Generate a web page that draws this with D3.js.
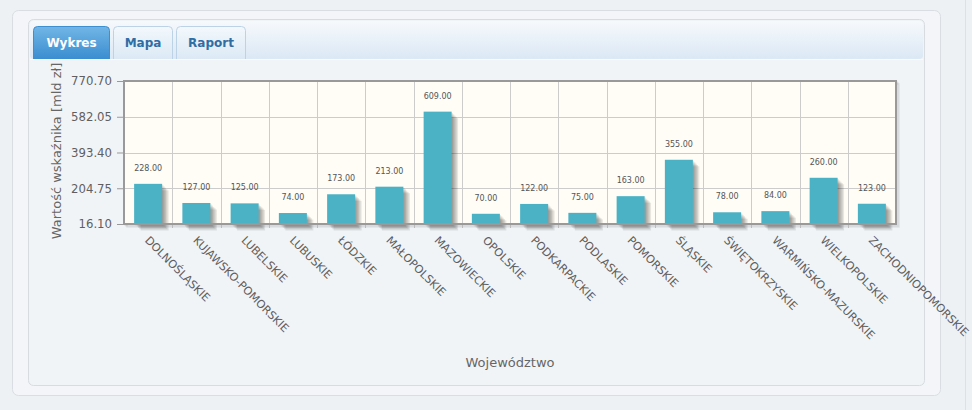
<!DOCTYPE html>
<html><head><meta charset="utf-8">
<script src="https://cdn.jsdelivr.net/npm/d3@7"></script>
<style>body{margin:0;background:#eef1f4;} svg{display:block}</style>
</head><body><svg id="c" width="972" height="410"></svg>
<script>
const categories = ["DOLNOŚLĄSKIE","KUJAWSKO-POMORSKIE","LUBELSKIE","LUBUSKIE","ŁÓDZKIE","MAŁOPOLSKIE","MAZOWIECKIE","OPOLSKIE","PODKARPACKIE","PODLASKIE","POMORSKIE","ŚLĄSKIE","ŚWIĘTOKRZYSKIE","WARMIŃSKO-MAZURSKIE","WIELKOPOLSKIE","ZACHODNIOPOMORSKIE"];
const values = [228,127,125,74,173,213,609,70,122,75,163,355,78,84,260,123];
const yTicks = [16.10,204.75,393.40,582.05,770.70];
const tabs = ["Wykres","Mapa","Raport"];
const yTitle = "Wartość wskaźnika [mld zł]";
const xTitle = "Województwo";

const svg = d3.select("#c");
const defs = svg.append("defs");
const g1 = defs.append("linearGradient").attr("id","hdr").attr("x1",0).attr("y1",0).attr("x2",0).attr("y2",1);
g1.append("stop").attr("offset","0%").attr("stop-color","#f6f9fc");
g1.append("stop").attr("offset","100%").attr("stop-color","#dbe8f5");
const g2 = defs.append("linearGradient").attr("id","act").attr("x1",0).attr("y1",0).attr("x2",0).attr("y2",1);
g2.append("stop").attr("offset","0%").attr("stop-color","#72b6e6");
g2.append("stop").attr("offset","100%").attr("stop-color","#3a8dd0");
const g3 = defs.append("linearGradient").attr("id","ina").attr("x1",0).attr("y1",0).attr("x2",0).attr("y2",1);
g3.append("stop").attr("offset","0%").attr("stop-color","#f3f8fc");
g3.append("stop").attr("offset","100%").attr("stop-color","#dce9f5");

// page frame
svg.append("rect").attr("width",972).attr("height",410).attr("fill","#eef1f4");
svg.append("line").attr("x1",965.5).attr("x2",965.5).attr("y1",0).attr("y2",410).attr("stroke","#dde1e6");
svg.append("rect").attr("x",12.5).attr("y",10.5).attr("width",928).attr("height",385).attr("rx",6)
  .attr("fill","#f3f5f8").attr("stroke","#dadee3");
svg.append("rect").attr("x",28.5).attr("y",19.5).attr("width",896).attr("height",366).attr("rx",5)
  .attr("fill","#f1f4f7").attr("stroke","#d8dce1");
svg.append("rect").attr("x",30).attr("y",21).attr("width",893).attr("height",38).attr("rx",4).attr("fill","url(#hdr)");
svg.append("line").attr("x1",30).attr("x2",923).attr("y1",59.5).attr("y2",59.5).attr("stroke","#f8fafc");

// tabs
const tabX = [33,113,176], tabW = [77,60,70];
tabs.forEach((t,i)=>{
  const active = i===0;
  const x = tabX[i], w = tabW[i];
  svg.append("path")
    .attr("d",`M${x+0.5},59 V${30.5} Q${x+0.5},26.5 ${x+4.5},26.5 H${x+w-4.5} Q${x+w-0.5},26.5 ${x+w-0.5},30.5 V59`)
    .attr("fill", active ? "url(#act)" : "url(#ina)")
    .attr("stroke", active ? "#3e8fd0" : "#bcd2e6");
  svg.append("text").attr("x",x+w/2).attr("y",47).attr("text-anchor","middle")
    .attr("font-family","DejaVu Sans, Verdana, sans-serif").attr("font-weight","bold").attr("font-size",12)
    .attr("fill", active ? "#ffffff" : "#2f6ea5").text(t);
});

// chart
const L=124, R=896, T=81, B=224;
const x = d3.scaleBand().domain(categories).range([L,R]).padding(0);
const y = d3.scaleLinear().domain([yTicks[0], yTicks[yTicks.length-1]]).range([B,T]);
const font = "DejaVu Sans, Verdana, sans-serif";

// plot border shadow
for (let j=1;j<=3;j++){
  svg.append("rect").attr("x",L+j*1).attr("y",T+j*1).attr("width",R-L).attr("height",B-T)
    .attr("fill","none").attr("stroke","rgba(0,0,0,0.07)").attr("stroke-width",1.5);
}
svg.append("rect").attr("x",L).attr("y",T).attr("width",R-L).attr("height",B-T).attr("fill","#fffdf6");

// grid
svg.append("g").selectAll("line").data(yTicks).join("line")
  .attr("x1",L).attr("x2",R).attr("y1",d=>Math.round(y(d))+0.5).attr("y2",d=>Math.round(y(d))+0.5)
  .attr("stroke","#cccccc");
svg.append("g").selectAll("line").data(categories.slice(1)).join("line")
  .attr("x1",d=>Math.round(x(d))+0.5).attr("x2",d=>Math.round(x(d))+0.5).attr("y1",T).attr("y2",B)
  .attr("stroke","#cccccc");

// y axis
const yAxis = d3.axisLeft(y).tickValues(yTicks).tickFormat(d3.format(".2f")).tickSize(6).tickPadding(5);
const ya = svg.append("g").attr("transform",`translate(${L-1},0)`).call(yAxis);
ya.select(".domain").remove();
ya.selectAll(".tick line").attr("stroke","#999");
ya.selectAll("text").attr("font-family",font).attr("font-size",11.7).attr("fill","#5f5f5f");

// x axis
const xAxis = d3.axisBottom(x).tickSize(0).tickPadding(0);
const xa = svg.append("g").attr("transform",`translate(0,${B})`).call(xAxis);
xa.select(".domain").remove();
xa.selectAll("text").attr("font-family",font).attr("font-size",11.2).attr("fill","#5f5f5f")
  .attr("text-anchor","start").attr("dy",0).attr("y",0)
  .attr("transform","translate(-4,17) rotate(45)");
svg.append("g").selectAll("line").data(categories.slice(1)).join("line")
  .attr("x1",d=>Math.round(x(d))+0.5).attr("x2",d=>Math.round(x(d))+0.5).attr("y1",B).attr("y2",B+4)
  .attr("stroke","#bbb");

// bars
const bw = 28;
const bars = svg.append("g");
values.forEach((v,i)=>{
  const cx = x(categories[i]) + x.bandwidth()/2;
  for (let j=1;j<=5;j++){
    bars.append("rect").attr("x",cx-bw/2+j*1.3).attr("y",y(v)+j*1.3).attr("width",bw).attr("height",B-y(v))
      .attr("fill","rgba(0,0,0,0.09)");
  }
});
values.forEach((v,i)=>{
  const cx = x(categories[i]) + x.bandwidth()/2;
  bars.append("rect").attr("x",cx-bw/2).attr("y",y(v)).attr("width",bw).attr("height",B-y(v)).attr("fill","#4bb2c5");
  bars.append("text").attr("x",cx).attr("y",y(v)-13).attr("text-anchor","middle")
    .attr("font-family",font).attr("font-size",8).attr("fill","#555").text(d3.format(".2f")(v));
});

// plot border
svg.append("rect").attr("x",L).attr("y",T).attr("width",R-L).attr("height",B-T)
  .attr("fill","none").attr("stroke","#999").attr("stroke-width",2);

// titles
svg.append("text").attr("transform",`translate(61,${(62+240)/2}) rotate(-90)`).attr("text-anchor","middle")
  .attr("font-family",font).attr("font-size",13).attr("fill","#666").text(yTitle);
svg.append("text").attr("x",(L+R)/2).attr("y",367).attr("text-anchor","middle")
  .attr("font-family",font).attr("font-size",13).attr("fill","#666").text(xTitle);
</script></body></html>
